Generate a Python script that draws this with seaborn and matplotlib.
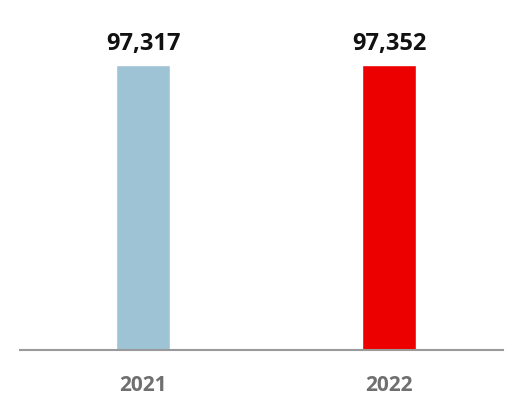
import matplotlib
matplotlib.use("Agg")
import matplotlib.pyplot as plt
import seaborn as sns
import pandas as pd

# data
years = ["2021", "2022"]
values = [97317, 97352]
bar_colors = ["#9dc3d5", "#ec0000"]


def main():
    sns.set_style("white")
    plt.rcParams['font.family'] = ['Open Sans', 'DejaVu Sans']

    df = pd.DataFrame({"year": years, "value": values})

    fig = plt.figure(figsize=(5.32, 4.10), dpi=100)
    ax = fig.add_axes([20 / 532, 59 / 410, 483 / 532, 351 / 410])

    sns.barplot(data=df, x="year", y="value", hue="year",
                palette=bar_colors, width=0.22, legend=False, ax=ax,
                saturation=1)

    ax.set_xlim(-0.5, 1.463)
    ax.set_ylim(0, values[0] * 351 / 285)

    # value labels
    for i, v in enumerate(values):
        ax.text(i, v + values[0] * 0.035, f"{v:,}", ha="center", va="bottom",
                fontsize=17, fontweight="bold", color="#111111")

    for side in ["top", "right", "left"]:
        ax.spines[side].set_visible(False)
    ax.spines["bottom"].set_color("#9a9a9a")
    ax.spines["bottom"].set_linewidth(1.5)

    ax.set_yticks([])
    ax.set_xlabel("")
    ax.set_ylabel("")
    ax.tick_params(axis="x", length=0, pad=17, labelsize=15, labelcolor="#6f6f6f")
    for lbl in ax.get_xticklabels():
        lbl.set_fontweight("bold")

    fig.savefig("out.png", dpi=100)
    plt.close(fig)


if __name__ == "__main__":
    main()
